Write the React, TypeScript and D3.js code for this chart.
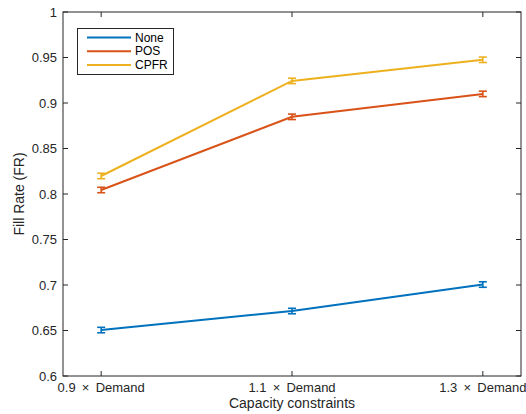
import React from "react";
import * as d3 from "d3";

const capacities = [0.9, 1.1, 1.3];
const capacityLabels = [
  "0.9 \u2009×\u2009 Demand",
  "1.1 \u2009×\u2009 Demand",
  "1.3 \u2009×\u2009 Demand",
];
const seriesNames = ["None", "POS", "CPFR"];
const noneValues = [0.6505, 0.6714, 0.7005];
const posValues = [0.8044, 0.8848, 0.9100];
const cpfrValues = [0.8198, 0.9243, 0.9475];
const errorHalf = [0.003, 0.003, 0.003];
const yTicks = [0.6, 0.65, 0.7, 0.75, 0.8, 0.85, 0.9, 0.95, 1];
const colors = ["#0072BD", "#D95319", "#EDB120"];

const W = 526;
const H = 414;
const m = { left: 63, right: 521, top: 12, bottom: 376 };
const font = "'Liberation Sans', Arial, Helvetica, sans-serif";

export default function App() {
  const x = d3.scaleLinear().domain([0.86, 1.34]).range([m.left, m.right]);
  const y = d3.scaleLinear().domain([0.6, 1]).range([m.bottom, m.top]);
  const line = d3
    .line<number>()
    .x((_, i) => x(capacities[i]))
    .y((d) => y(d));
  const allSeries = [noneValues, posValues, cpfrValues];
  const axisColor = "#262626";
  const tickLen = 5;

  return (
    <svg
      width={W}
      height={H}
      style={{ position: "absolute", left: 0, top: 0, background: "#fff" }}
      fontFamily={font}
    >
      <rect x={0} y={0} width={W} height={H} fill="#fff" />
      {/* series lines with error bars */}
      {allSeries.map((vals, s) => (
        <g key={s} stroke={colors[s]} strokeWidth={2} fill="none">
          <path d={line(vals) || ""} />
          {vals.map((v, i) => {
            const cx = x(capacities[i]);
            const y0 = y(v - errorHalf[i]);
            const y1 = y(v + errorHalf[i]);
            return (
              <g key={i} strokeWidth={1.6}>
                <line x1={cx} x2={cx} y1={y0} y2={y1} />
                <line x1={cx - 4} x2={cx + 4} y1={y0} y2={y0} />
                <line x1={cx - 4} x2={cx + 4} y1={y1} y2={y1} />
              </g>
            );
          })}
        </g>
      ))}
      {/* axes box */}
      <rect
        x={m.left}
        y={m.top}
        width={m.right - m.left}
        height={m.bottom - m.top}
        fill="none"
        stroke={axisColor}
        strokeWidth={1}
      />
      {yTicks.map((t) => (
        <g key={t}>
          <line x1={m.left} x2={m.left + tickLen} y1={y(t)} y2={y(t)} stroke={axisColor} />
          <line x1={m.right} x2={m.right - tickLen} y1={y(t)} y2={y(t)} stroke={axisColor} />
          <text
            x={m.left - 6}
            y={y(t)}
            dy="0.35em"
            textAnchor="end"
            fontSize={13}
            fill={axisColor}
          >
            {String(t)}
          </text>
        </g>
      ))}
      {capacities.map((c, i) => (
        <g key={c}>
          <line x1={x(c)} x2={x(c)} y1={m.bottom} y2={m.bottom - tickLen} stroke={axisColor} />
          <line x1={x(c)} x2={x(c)} y1={m.top} y2={m.top + tickLen} stroke={axisColor} />
          <text
            x={x(c)}
            y={m.bottom + 16}
            textAnchor="middle"
            fontSize={13}
            fill={axisColor}
            style={{ whiteSpace: "pre" }}
          >
            {capacityLabels[i]}
          </text>
        </g>
      ))}
      <text
        x={(m.left + m.right) / 2}
        y={408}
        textAnchor="middle"
        fontSize={14}
        fill={axisColor}
      >
        Capacity constraints
      </text>
      <text
        transform={`translate(24, ${(m.top + m.bottom) / 2}) rotate(-90)`}
        textAnchor="middle"
        fontSize={14}
        fill={axisColor}
      >
        Fill Rate (FR)
      </text>
      {/* legend */}
      <g>
        <rect x={77.5} y={28.5} width={96} height={46} fill="#fff" stroke={axisColor} strokeWidth={1} />
        {seriesNames.map((n, i) => (
          <g key={n}>
            <line
              x1={87}
              x2={131}
              y1={37.5 + i * 13.7}
              y2={37.5 + i * 13.7}
              stroke={colors[i]}
              strokeWidth={2}
            />
            <text x={135} y={37.5 + i * 13.7} dy="0.35em" fontSize={12} fill="#000">
              {n}
            </text>
          </g>
        ))}
      </g>
    </svg>
  );
}
